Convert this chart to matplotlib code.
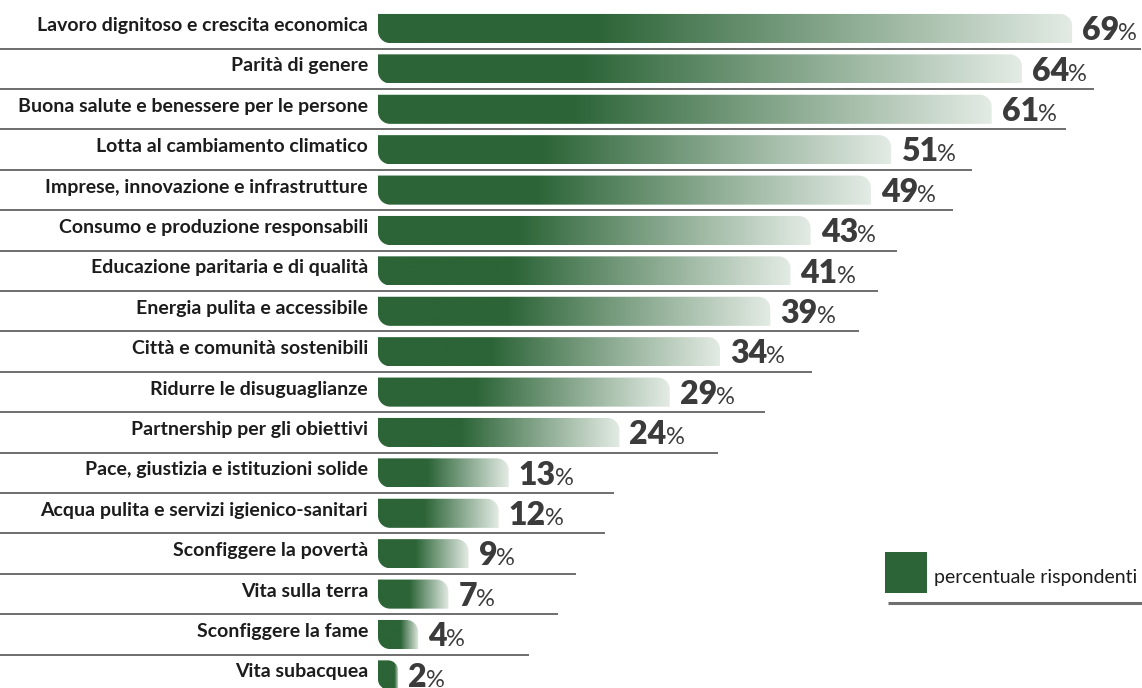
import matplotlib
matplotlib.use('Agg')
import matplotlib.pyplot as plt
import numpy as np
from matplotlib.path import Path
from matplotlib.patches import PathPatch, Rectangle
from matplotlib.colors import LinearSegmentedColormap

goals = [
    'Lavoro dignitoso e crescita economica',
    'Parità di genere',
    'Buona salute e benessere per le persone',
    'Lotta al cambiamento climatico',
    'Imprese, innovazione e infrastrutture',
    'Consumo e produzione responsabili',
    'Educazione paritaria e di qualità',
    'Energia pulita e accessibile',
    'Città e comunità sostenibili',
    'Ridurre le disuguaglianze',
    'Partnership per gli obiettivi',
    'Pace, giustizia e istituzioni solide',
    'Acqua pulita e servizi igienico-sanitari',
    'Sconfiggere la povertà',
    'Vita sulla terra',
    'Sconfiggere la fame',
    'Vita subacquea',
]
values = [69, 64, 61, 51, 49, 43, 41, 39, 34, 29, 24, 13, 12, 9, 7, 4, 2]
legend_label = 'percentuale rispondenti'

W, H = 1142, 688
X0 = 378      # pixel column where bars start
SX = 10.06    # pixels per percentage point
Y0 = 28.5     # pixel row of the first bar centre
SY = 40.4     # pixels between rows
BAR_H = 0.72
RADIUS = 12   # corner radius in pixels
NUM_DY = 0.29 # baseline offset of the value labels, in rows

DARK = '#2c6437'
LIGHT = '#e3ebe4'
TEXT = '#1c1c1c'
NUM = '#3b3b3b'
RULE = '#555555'
FONT = 'Lato'


def leaf_path(v, row):
    # rounded top-right and bottom-left corners, square elsewhere
    r = min(RADIUS, v * SX / 2)
    rx, ry = r / SX, r / SY
    k = 0.5523
    top, bot = row - BAR_H / 2, row + BAR_H / 2
    verts = [(0, top), (v - rx, top),
             (v - rx + k * rx, top), (v, top + ry - k * ry), (v, top + ry),
             (v, bot), (rx, bot),
             (rx - k * rx, bot), (0, bot - ry + k * ry), (0, bot - ry),
             (0, top), (0, top)]
    codes = [Path.MOVETO, Path.LINETO,
             Path.CURVE4, Path.CURVE4, Path.CURVE4,
             Path.LINETO, Path.LINETO,
             Path.CURVE4, Path.CURVE4, Path.CURVE4,
             Path.LINETO, Path.CLOSEPOLY]
    return Path(verts, codes)


fig = plt.figure(figsize=(W / 100, H / 100), dpi=100)
ax = fig.add_axes([0, 0, 1, 1])
ax.axis('off')
xlim = (-X0 / SX, (W - X0) / SX)
ylim = ((H - Y0) / SY, -Y0 / SY)

ramp = np.linspace(0, 1, 512)[None, :]
num_texts = []
for row, (name, v) in enumerate(zip(goals, values)):
    w_px = v * SX
    stop = min(0.9, 0.30 + 10 / w_px)
    cmap = LinearSegmentedColormap.from_list(
        'leaf', [(0, DARK), (stop, DARK), (1, LIGHT)])
    patch = PathPatch(leaf_path(v, row), facecolor='none', edgecolor='none')
    ax.add_patch(patch)
    img = ax.imshow(ramp, cmap=cmap, aspect='auto', interpolation='bilinear',
                    extent=(0, v, row + BAR_H / 2, row - BAR_H / 2))
    img.set_clip_path(patch)

    ax.text(-10 / SX, row + 0.06, name, ha='right', va='baseline',
            fontsize=14, fontweight='bold', family=FONT, color=TEXT)
    t = ax.text(v + 10 / SX, row + NUM_DY, str(v), ha='left', va='baseline',
                fontsize=23, fontweight='heavy', family=FONT, color=NUM)
    num_texts.append(t)

    if row < len(values) - 1:
        line_end = 11.3 + 0.936 * v
        ax.plot([xlim[0], line_end], [row + 0.5, row + 0.5],
                color=RULE, lw=1.2, solid_capstyle='butt')

ax.set_xlim(*xlim)
ax.set_ylim(*ylim)

# percent signs follow each number in a lighter, smaller face
fig.canvas.draw()
renderer = fig.canvas.get_renderer()
inv = ax.transData.inverted()
for t, row in zip(num_texts, range(len(values))):
    bb = t.get_window_extent(renderer)
    x_end = inv.transform((bb.x1 - 1, 0))[0]
    ax.text(x_end, row + NUM_DY, '%', ha='left', va='baseline',
            fontsize=17, family=FONT, color=NUM)

# legend
ax.add_patch(Rectangle((885 / W, 1 - 593 / H), 42 / W, 41 / H,
                       transform=ax.transAxes, facecolor=DARK, edgecolor='none'))
ax.text(934 / W, 1 - 583 / H, legend_label, transform=ax.transAxes,
        ha='left', va='baseline', fontsize=14, family=FONT, color=TEXT)
ax.plot([888 / W, 1.0], [1 - 603 / H, 1 - 603 / H], transform=ax.transAxes,
        color='#6f6f6f', lw=2.2, solid_capstyle='butt')

fig.savefig('out.png', dpi=100)
